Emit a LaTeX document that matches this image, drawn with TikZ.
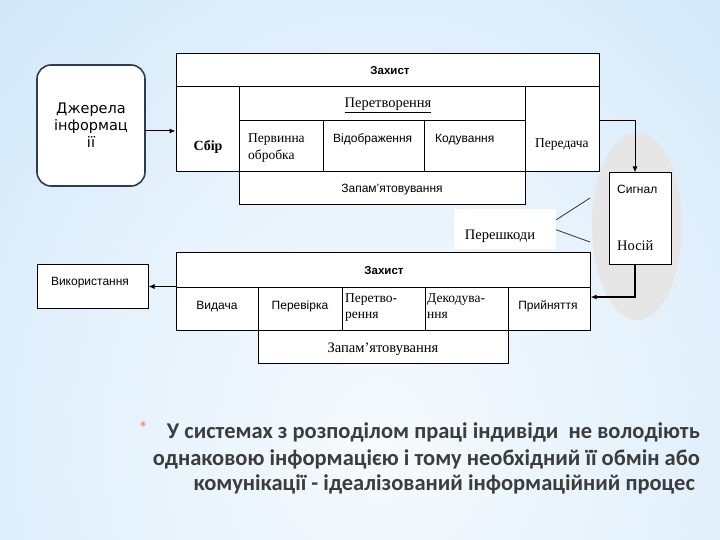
\documentclass[tikz,border=0pt]{standalone}
\usepackage{fontspec}
\setmainfont{Liberation Serif}
\setsansfont{Liberation Sans}
\newfontfamily\carl{Carlito}
\newfontfamily\dvs{DejaVu Sans}
\usetikzlibrary{arrows.meta,calc}
\definecolor{bgedge}{HTML}{A4D2F3}
\definecolor{bgmid}{HTML}{CFE7F9}
\definecolor{bgin}{HTML}{E6F2FC}
\definecolor{bgcen}{HTML}{F6FAFE}
\definecolor{txtgray}{HTML}{3C3C3C}
\definecolor{starc}{HTML}{E8826A}
\definecolor{ellgray}{HTML}{E6E6E6}
\definecolor{srcline}{HTML}{2E3B57}
\pgfdeclareradialshading{bgsh}{\pgfpoint{0bp}{0bp}}{color(0bp)=(bgcen);color(14bp)=(bgin);color(30bp)=(bgmid);color(46bp)=(bgedge);color(50bp)=(bgedge)}
\newcommand\cellbox[5]{\node[cellst,minimum width={(#4-#2)*1pt},minimum height={(#5-#3)*1pt}] (#1) at ({(#2+#4)/2},{(#3+#5)/2}) {};}
\begin{document}
\begin{tikzpicture}[x=1pt,y=-1pt,
  cellst/.style={draw=black,fill=white,line width=1pt,inner sep=0pt},
  arr/.style={-{Latex[length=6pt,width=5pt]},line width=1pt},
  sans/.style={inner sep=0pt,font=\sffamily\fontsize{12}{14}\selectfont},
  sansb/.style={inner sep=0pt,font=\sffamily\bfseries\fontsize{11.5}{13}\selectfont},
  ser/.style={inner sep=0pt,font=\rmfamily\fontsize{13.5}{16}\selectfont},
  serl/.style={inner sep=0pt,font=\rmfamily\fontsize{14.5}{17}\selectfont},
  big/.style={inner sep=0pt,font=\carl\bfseries\fontsize{22.5}{26}\selectfont,text=txtgray}]
\useasboundingbox (0,0) rectangle (720,540);
% background
\fill[bgedge] (0,0) rectangle (720,540);
\begin{scope}
  \clip (0,0) rectangle (720,540);
  \shade[shading=bgsh] (-100,-120) rectangle (860,1000);
\end{scope}
% grey ellipse
\fill[ellgray] (637,226) ellipse [x radius=45, y radius=94];
% source
\node[draw=srcline,line width=1.6pt,rounded corners=14pt,fill=white,
  minimum width=108pt,minimum height=121pt,align=center,inner sep=0pt,
  font=\dvs\fontsize{14.5}{17}\selectfont] (dz) at (91,125.5) {Джерела\\інформац\\ії};
% top block
\cellbox{zt}{176}{54}{599}{87}
\cellbox{sb}{176}{87}{239}{172}
\cellbox{pt}{239}{87}{525}{121}
\cellbox{po}{239}{121}{323}{172}
\cellbox{vd}{323}{121}{424}{172}
\cellbox{kd}{424}{121}{525}{172}
\cellbox{pd}{525}{87}{599}{172}
\cellbox{zp}{239}{172}{525}{205}
% carrier
\cellbox{sg}{609}{173}{671}{264}
% noise
\node[fill=white,minimum width=102pt,minimum height=40pt,inner sep=0pt] (ps) at (505,229) {};
% bottom block
\cellbox{zb}{176}{252}{590}{287}
\cellbox{vy}{176}{287}{258}{330}
\cellbox{pv}{258}{287}{342}{330}
\cellbox{pr}{342}{287}{425}{330}
\cellbox{dk}{425}{287}{508}{330}
\cellbox{pn}{508}{287}{590}{330}
\cellbox{zq}{258}{330}{508}{363}
% use
\cellbox{vk}{37}{264}{148}{308}
% connectors
\coordinate (ya) at (0,131);
\coordinate (xa) at (635,0);
\coordinate (yb) at (0,297);
\coordinate (e1) at (590,198);
\coordinate (e2) at (590,242);
\draw[arr] (dz.east |- ya) -- (sb.west |- ya);
\draw[arr] (pd.east |- po.north) -| (sg.north -| xa);
\draw[arr,line width=2pt] (sg.south -| xa) |- (pn.east |- yb);
\draw[arr] (vy.north west) -- (vk.east |- vy.north west);
\draw[line width=0.8pt,black!80] ($(ps.north east)+(0,11)$) -- (e1);
\draw[line width=0.8pt,black!80] ($(ps.north east)+(0,21)$) -- (e2);
% texts top
\node[sansb,anchor=base] (t1) at (390,75) {Захист};
\node[serl,anchor=base] (t2) at (388,108) {\underline{Перетворення}};
\node[serl,font=\rmfamily\bfseries\fontsize{14}{16}\selectfont,anchor=base] (t3) at (208,151) {Сбір};
\node[ser,anchor=base west] (t4a) at (248,143) {Первинна};
\node[ser,anchor=base west] (t4b) at (248,160) {обробка};
\node[sans,anchor=base west] (t5) at (333,143) {Відображення};
\node[sans,anchor=base west] (t6) at (435,143) {Кодування};
\node[ser,anchor=base west] (t7) at (535,148) {Передача};
\node[sans,anchor=base] (t8) at (392,193) {Запам’ятовування};
\node[sans,anchor=base west] (t9) at (617,194) {Сигнал};
\node[serl,anchor=base west] (t10) at (617,251) {Носій};
\node[serl,anchor=base] (t11) at (500,240) {Перешкоди};
% texts bottom
\node[sansb,anchor=base] (b1) at (384,274) {Захист};
\node[sans,anchor=base] (b2) at (217,309) {Видача};
\node[sans,anchor=base] (b3) at (300,309) {Перевірка};
\node[ser,anchor=base west] (b4a) at (345,302) {Перетво-};
\node[ser,anchor=base west] (b4b) at (345,318) {рення};
\node[ser,anchor=base west] (b5a) at (427,302) {Декодува-};
\node[ser,anchor=base west] (b5b) at (427,318) {ння};
\node[sans,anchor=base] (b6) at (548,309) {Прийняття};
\node[serl,anchor=base] (b7) at (383,352) {Запам’ятовування};
\node[sans,anchor=base] (b8) at (90,285) {Використання};
% bullet text
\node[inner sep=0pt,font=\carl\fontsize{20}{20}\selectfont,text=starc] (st) at (143,428) {*};
\node[big,anchor=base east] (l1) at (700,438) {У системах з розподілом праці індивіди\ \ не володіють};
\node[big,anchor=base east] (l2) at (700,465) {однаковою інформацією і тому необхідний її обмін або};
\node[big,anchor=base east] (l3) at (695,490) {комунікації - ідеалізований інформаційний процес};
\end{tikzpicture}
\end{document}
